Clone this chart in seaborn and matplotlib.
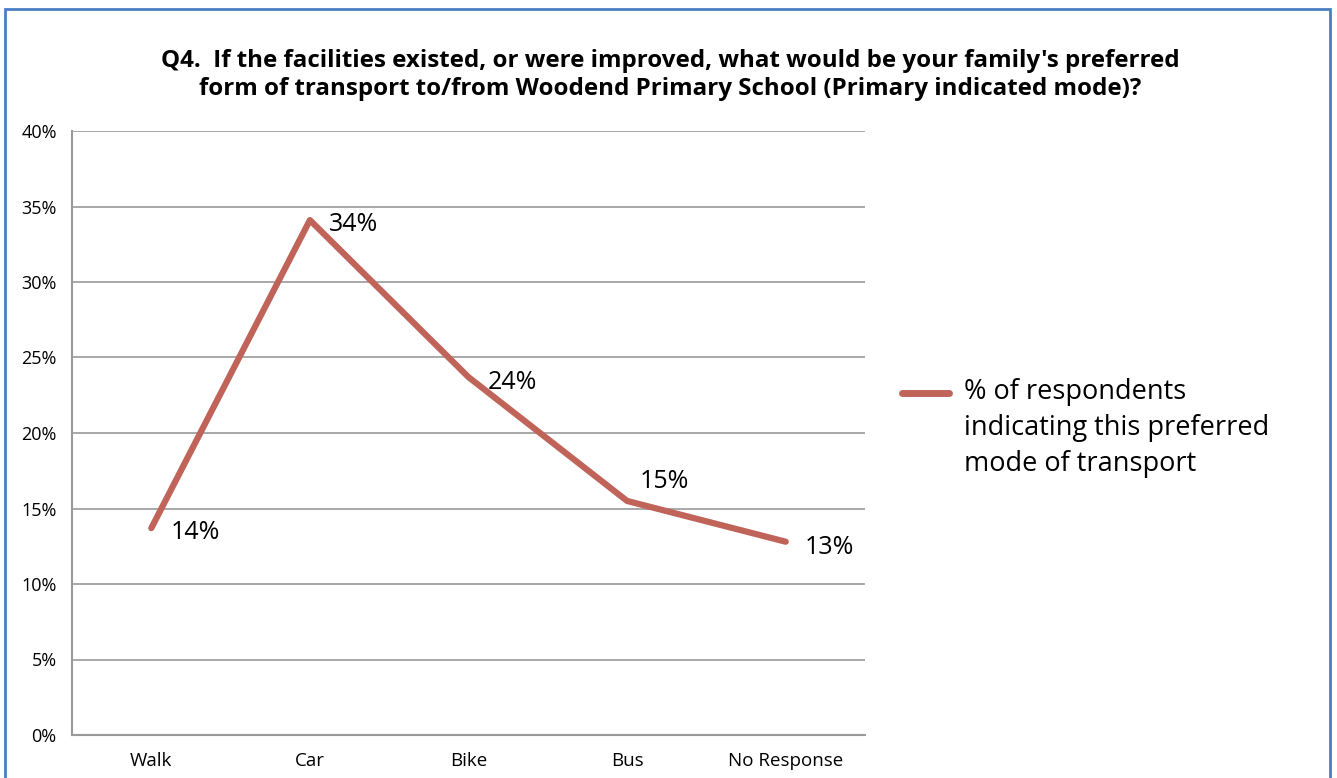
import pandas as pd
import numpy as np
import matplotlib.pyplot as plt
import matplotlib.patches as patches
from matplotlib.transforms import ScaledTranslation
import seaborn as sns
from matplotlib.ticker import FuncFormatter, MultipleLocator

# preferred transport mode shares
modes = ["Walk", "Car", "Bike", "Bus", "No Response"]
shares = [13.7, 34.1, 23.7, 15.5, 12.8]
labels = ["14%", "34%", "24%", "15%", "13%"]
series_name = "% of respondents\nindicating this preferred\nmode of transport"

df = pd.DataFrame({"mode": modes, "share": shares})

sns.set_style("white")
plt.rcParams["font.family"] = ["Open Sans", "DejaVu Sans"]
plt.rcParams["text.color"] = "black"
plt.rcParams["xtick.color"] = "black"
plt.rcParams["ytick.color"] = "black"

W, H = 1337, 778
fig = plt.figure(figsize=(W / 100, H / 100), dpi=100)
ax = fig.add_axes([72 / W, 1 - 735 / H, (865 - 72) / W, (735 - 131) / H])

line_color = "#C0645A"
grid_color = "#9A9A9A"

sns.lineplot(data=df, x="mode", y="share", ax=ax, color=line_color,
             linewidth=4.5, solid_capstyle="round", solid_joinstyle="round",
             label=series_name, sort=False)

ax.set_xlim(-0.5, len(modes) - 0.5)
ax.set_ylim(0, 40)
ax.yaxis.set_major_locator(MultipleLocator(5))
ax.yaxis.set_major_formatter(FuncFormatter(lambda v, p: f"{v:.0f}%"))
ax.set_xticks(range(len(modes)))
ax.set_xticklabels(modes)
ax.set_xticks(np.arange(-0.5, len(modes)), minor=True)
ax.tick_params(axis="x", which="major", length=0, pad=12, labelsize=13.5, labelcolor="black")
ax.tick_params(axis="x", which="minor", length=5, color=grid_color, width=1.5, direction="out")
ax.tick_params(axis="y", length=5, color=grid_color, width=1.5, labelsize=13, pad=6, labelcolor="black")
ax.yaxis.grid(True, color=grid_color, linewidth=1.2)
ax.set_axisbelow(True)
ax.set_xlabel("")
ax.set_ylabel("")
for s in ["top", "right"]:
    ax.spines[s].set_visible(False)
for s in ["left", "bottom"]:
    ax.spines[s].set_color(grid_color)
    ax.spines[s].set_linewidth(1.5)

# data labels
offsets = [(14, -3), (14, -3), (14, -4), (9, 14), (14, -4)]
for i, (v, t) in enumerate(zip(shares, labels)):
    dx, dy = offsets[i]
    ax.annotate(t, (i, v), xytext=(dx, dy), textcoords="offset points",
                fontsize=18, va="center", ha="left", color="black")

leg = ax.legend(loc="center left", bbox_to_anchor=(902 / W, 1 - 428 / H),
                bbox_transform=fig.transFigure, frameon=False, fontsize=19.5,
                handlelength=1.75, handletextpad=0.55, borderpad=0, borderaxespad=0)
for t in leg.get_texts():
    t.set_linespacing(1.4)
    t.set_color("black")
for h in leg.get_lines():
    h.set_linewidth(5)
    h.set_solid_capstyle("round")
    # put the handle next to the first text line
    h.set_transform(h.get_transform() + ScaledTranslation(0, 0.36, fig.dpi_scale_trans))

fig.text(670 / W, 1 - 75 / H,
         "Q4.  If the facilities existed, or were improved, what would be your family's preferred\n"
         "form of transport to/from Woodend Primary School (Primary indicated mode)?",
         ha="center", va="center", fontsize=17.4, fontweight="bold", linespacing=1.2,
         color="black")

# outer chart border
fig.patches.append(patches.Rectangle((5 / W, -0.05), (1330 - 5) / W, 1.05 - 9 / H,
                                     transform=fig.transFigure, fill=False,
                                     edgecolor="#4A7EC2", linewidth=2))

fig.savefig("out.png", dpi=100)
